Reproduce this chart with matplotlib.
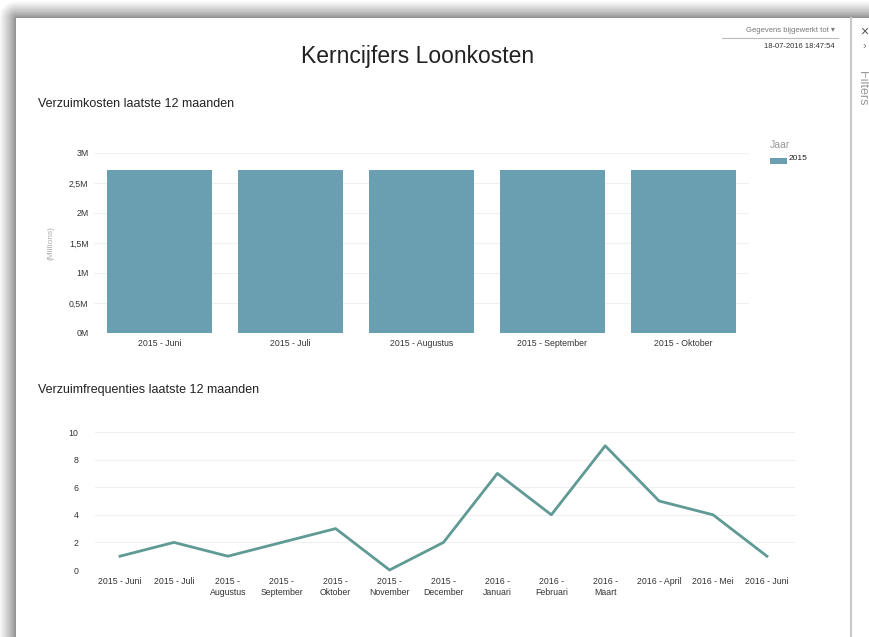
import numpy as np
import matplotlib.pyplot as plt
from matplotlib.patches import Rectangle
from matplotlib.lines import Line2D

# data
bar_labels = ['2015 - Juni', '2015 - Juli', '2015 - Augustus', '2015 - September', '2015 - Oktober']
bar_values = [2.72e6, 2.72e6, 2.72e6, 2.72e6, 2.72e6]
bar_yticks = [0, 0.5e6, 1e6, 1.5e6, 2e6, 2.5e6, 3e6]
bar_yticklabels = ['0M', '0,5M', '1M', '1,5M', '2M', '2,5M', '3M']

line_labels = ['2015 - Juni', '2015 - Juli', '2015 -\nAugustus', '2015 -\nSeptember', '2015 -\nOktober',
               '2015 -\nNovember', '2015 -\nDecember', '2016 -\nJanuari', '2016 -\nFebruari', '2016 -\nMaart',
               '2016 - April', '2016 - Mei', '2016 - Juni']
line_values = [1, 2, 1, 2, 3, 0, 2, 7, 4, 9, 5, 4, 1]
line_yticks = [0, 2, 4, 6, 8, 10]

W, H = 870, 637
BAR_COLOR = '#699fb0'
LINE_COLOR = '#5f9a94'
plt.rcParams['font.family'] = ['Liberation Sans', 'DejaVu Sans']

fig = plt.figure(figsize=(W / 100, H / 100), dpi=100)
fig.patch.set_facecolor('white')


def px_axes(left, top, right, bottom):
    return fig.add_axes([left / W, 1 - bottom / H, (right - left) / W, (bottom - top) / H])


def px_text(x, y, s, **kw):
    fig.text(x / W, 1 - y / H, s, **kw)


# screenshot frame: soft gray shadow on top and left edges
bg = fig.add_axes([0, 0, 1, 1], zorder=-10)
xx, yy = np.meshgrid(np.arange(W) + 0.5, np.arange(H) + 0.5)
dx = np.clip(16 - xx, 0, None)
dy = np.clip(18 - yy, 0, None)
d = np.sqrt(dx ** 2 + dy ** 2)
shade = np.where(d > 0, 0.55 + 0.45 * np.clip(d / 17, 0, 1) ** 0.8, 1.0)
bg.imshow(shade, cmap='gray', vmin=0, vmax=1, aspect='auto', interpolation='nearest')
bg.axis('off')

fig.lines.append(Line2D([851 / W, 851 / W], [0, 1 - 18 / H], transform=fig.transFigure,
                        color='#c8c8c8', linewidth=1.5))

# header texts
px_text(418, 57, 'Kerncijfers Loonkosten', ha='center', va='center', fontsize=16.5, color='#222222')
px_text(38, 104, 'Verzuimkosten laatste 12 maanden', ha='left', va='center', fontsize=9, color='#222222')
px_text(38, 390, 'Verzuimfrequenties laatste 12 maanden', ha='left', va='center', fontsize=9, color='#222222')
px_text(835, 30, 'Gegevens bijgewerkt tot \u25be', ha='right', va='center', fontsize=5.5, color='#777777')
fig.lines.append(Line2D([722 / W, 838 / W], [1 - 38 / H, 1 - 38 / H], transform=fig.transFigure,
                        color='#bbbbbb', linewidth=0.8))
px_text(835, 47, '18-07-2016 18:47:54', ha='right', va='center', fontsize=5.5, color='#333333')

# filters pane
px_text(864, 32, '\u00d7', ha='center', va='center', fontsize=10, color='#555555')
px_text(864, 46, '\u203a', ha='center', va='center', fontsize=8, color='#777777')
px_text(862, 88, 'Filters', ha='center', va='center', fontsize=9, color='#999999', rotation=-90)

# bar chart
ax1 = px_axes(94, 153, 749, 333)
x1 = np.arange(len(bar_labels))
ax1.bar(x1, bar_values, width=0.8, color=BAR_COLOR, zorder=2)
ax1.set_xlim(-0.5, len(bar_labels) - 0.5)
ax1.set_ylim(0, 3e6)
ax1.set_yticks(bar_yticks)
ax1.set_yticklabels(bar_yticklabels)
ax1.set_xticks(x1)
ax1.set_xticklabels(bar_labels)
ax1.grid(axis='y', color='#f0f0f0', linewidth=0.8, zorder=0)
ax1.set_ylabel('(Millions)', fontsize=6, color='#aaaaaa', labelpad=10)
ax1.tick_params(axis='both', length=0, labelsize=6.3, colors='#333333', pad=4)
for s in ax1.spines.values():
    s.set_visible(False)

# legend
px_text(780, 145, 'Jaar', ha='center', va='center', fontsize=7.5, color='#999999')
fig.patches.append(Rectangle((770 / W, 1 - 164 / H), 17 / W, 6 / H, transform=fig.transFigure,
                             facecolor=BAR_COLOR, edgecolor='none'))
px_text(789, 159, '2015', ha='left', va='center', fontsize=6, color='#222222')

# line chart
ax2 = px_axes(95, 432, 795, 570)
x2 = np.arange(len(line_labels))
ax2.plot(x2, line_values, color=LINE_COLOR, linewidth=2, clip_on=False, zorder=3)
ax2.set_xlim(-0.464, 12.52)
ax2.set_ylim(0, 10)
ax2.set_yticks(line_yticks)
ax2.set_xticks(x2)
ax2.set_xticklabels(line_labels, va='top', linespacing=1.35)
ax2.grid(axis='y', color='#f0f0f0', linewidth=0.8, zorder=0)
ax2.tick_params(axis='both', length=0, labelsize=6.3, colors='#333333')
ax2.tick_params(axis='x', pad=5)
ax2.tick_params(axis='y', pad=12)
for s in ax2.spines.values():
    s.set_visible(False)

fig.savefig('out.png', dpi=100)
